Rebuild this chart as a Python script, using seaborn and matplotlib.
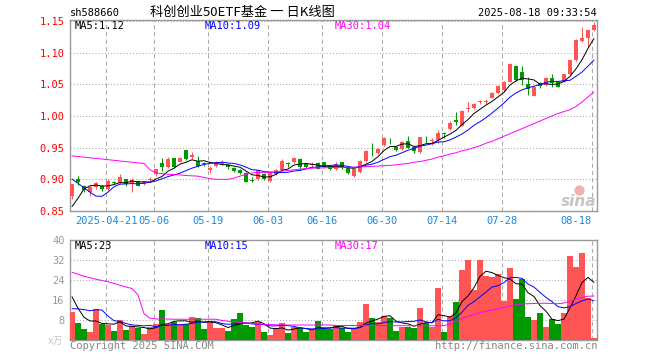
import matplotlib
matplotlib.use("Agg")
import matplotlib.pyplot as plt
import seaborn as sns
import numpy as np
import pandas as pd

# daily candles, 2025-04-11 .. 2025-08-18 (index 0..87)
opens = [0.8735, 0.901, 0.890, 0.8806, 0.888, 0.889, 0.8847, 0.896, 0.8949, 0.900,
         0.8944, 0.8975, 0.8924, 0.899, 0.9077, 0.9255, 0.9194, 0.9332, 0.928, 0.946,
         0.9357, 0.9296, 0.925, 0.9153, 0.9215, 0.9245, 0.923, 0.918, 0.915, 0.910,
         0.8995, 0.900, 0.9088, 0.897, 0.9088, 0.915, 0.9255, 0.9268, 0.932, 0.924,
         0.923, 0.9257, 0.927, 0.921, 0.916, 0.927, 0.919, 0.9047, 0.9113, 0.929,
         0.941, 0.9423, 0.9536, 0.9605, 0.9516, 0.9485, 0.9603, 0.951, 0.9427, 0.962,
         0.9606, 0.962, 0.9727, 0.9795, 0.9937, 0.9848, 1.0105, 1.012, 1.0216, 1.0216,
         1.029, 1.0358, 1.041, 1.0542, 1.079, 1.070, 1.050, 1.0321, 1.0516, 1.049,
         1.0605, 1.054, 1.0542, 1.0658, 1.0884, 1.1184, 1.1226, 1.1358]
closes = [0.8923, 0.896, 0.8837, 0.8883, 0.894, 0.885, 0.8975, 0.894, 0.9041, 0.892,
          0.899, 0.890, 0.8959, 0.901, 0.9163, 0.9194, 0.9316, 0.9194, 0.933, 0.9316,
          0.9383, 0.9204, 0.924, 0.9185, 0.9255, 0.928, 0.919, 0.913, 0.910, 0.8959,
          0.8975, 0.914, 0.901, 0.9113, 0.9155, 0.9294, 0.9237, 0.933, 0.919, 0.920,
          0.9235, 0.917, 0.921, 0.917, 0.9245, 0.919, 0.910, 0.9165, 0.929, 0.945,
          0.9408, 0.9474, 0.9655, 0.960, 0.9464, 0.9588, 0.950, 0.944, 0.9664, 0.9615,
          0.962, 0.9727, 0.9711, 0.9895, 0.991, 1.008, 1.0121, 1.0185, 1.0237, 1.0237,
          1.0369, 1.048, 1.0542, 1.0816, 1.0569, 1.0569, 1.0427, 1.0463, 1.048, 1.0605,
          1.0516, 1.0463, 1.0658, 1.0884, 1.120, 1.1237, 1.1358, 1.1437]
highs = [0.8925, 0.905, 0.891, 0.890, 0.896, 0.891, 0.900, 0.898, 0.9077, 0.901,
         0.9025, 0.899, 0.897, 0.904, 0.917, 0.933, 0.9347, 0.934, 0.935, 0.947,
         0.9434, 0.9367, 0.927, 0.921, 0.9296, 0.930, 0.924, 0.919, 0.916, 0.911,
         0.9036, 0.915, 0.910, 0.912, 0.917, 0.932, 0.9275, 0.9356, 0.933, 0.925,
         0.927, 0.927, 0.928, 0.923, 0.927, 0.928, 0.920, 0.917, 0.930, 0.946,
         0.958, 0.949, 0.967, 0.966, 0.953, 0.960, 0.968, 0.953, 0.967, 0.969,
         0.965, 0.978, 0.9745, 0.9921, 1.0058, 1.009, 1.0227, 1.020, 1.0258, 1.027,
         1.038, 1.049, 1.055, 1.083, 1.0805, 1.0795, 1.062, 1.047, 1.054, 1.061,
         1.066, 1.055, 1.067, 1.089, 1.121, 1.141, 1.137, 1.149]
lows = [0.8694, 0.891, 0.8796, 0.873, 0.885, 0.882, 0.8837, 0.892, 0.893, 0.890,
        0.8806, 0.889, 0.891, 0.897, 0.905, 0.9128, 0.918, 0.918, 0.927, 0.930,
        0.9316, 0.919, 0.921, 0.9104, 0.920, 0.923, 0.917, 0.911, 0.908, 0.895,
        0.8959, 0.899, 0.899, 0.895, 0.907, 0.913, 0.919, 0.925, 0.917, 0.918,
        0.919, 0.916, 0.919, 0.915, 0.914, 0.917, 0.908, 0.903, 0.910, 0.928,
        0.937, 0.940, 0.952, 0.956, 0.945, 0.947, 0.949, 0.942, 0.941, 0.957,
        0.954, 0.957, 0.966, 0.978, 0.9858, 0.984, 1.007, 1.011, 1.0195, 1.019,
        1.028, 1.034, 1.040, 1.053, 1.055, 1.049, 1.033, 1.031, 1.044, 1.048,
        1.0458, 1.045, 1.053, 1.065, 1.087, 1.117, 1.109, 1.134]
# volume (x万)
volume = [11.3, 6.7, 4.4, 3.2, 12.4, 6.3, 6.1, 3.6, 8.0, 4.0,
          5.6, 4.9, 2.4, 5.3, 6.5, 12.0, 6.3, 7.2, 6.3, 6.5,
          9.2, 8.8, 4.4, 7.3, 4.8, 4.8, 3.7, 8.4, 10.8, 6.0,
          5.3, 7.3, 3.2, 2.0, 4.9, 6.8, 2.9, 5.3, 4.7, 3.2,
          4.0, 7.7, 4.7, 4.3, 6.0, 4.7, 3.2, 4.4, 7.2, 14.4,
          8.7, 7.2, 9.6, 8.7, 3.6, 5.2, 5.2, 4.9, 12.8, 6.7,
          5.2, 20.8, 3.3, 9.6, 15.2, 28.0, 32.0, 20.0, 32.0, 25.6,
          25.2, 26.3, 15.7, 28.9, 16.4, 24.4, 9.2, 8.0, 10.8, 5.2,
          8.4, 6.4, 10.8, 33.6, 29.2, 34.8, 16.9, 0.8]

# nine sessions before the first candle (needed for MA5 / MA10)
prev_close = [0.960, 0.955, 0.958, 0.955, 0.888, 0.831, 0.8105, 0.8625, 0.889]
prev_volume = [7.0, 7.5, 8.0, 8.0, 8.0, 29.7, 22.4, 10.7, 12.4]

# MA30 lines as drawn
ma30 = [0.937, 0.936, 0.935, 0.934, 0.933, 0.932, 0.931, 0.930, 0.929, 0.928,
        0.927, 0.926, 0.925, 0.915, 0.910, 0.909, 0.908, 0.9075, 0.907, 0.906,
        0.9055, 0.905, 0.903, 0.901, 0.900, 0.900, 0.900, 0.902, 0.905, 0.908,
        0.910, 0.911, 0.911, 0.911, 0.912, 0.913, 0.914, 0.915, 0.916, 0.917,
        0.9175, 0.918, 0.918, 0.9185, 0.919, 0.919, 0.919, 0.919, 0.9195, 0.920,
        0.9205, 0.921, 0.9215, 0.922, 0.923, 0.924, 0.925, 0.927, 0.928, 0.930,
        0.932, 0.935, 0.937, 0.940, 0.942, 0.945, 0.947, 0.950, 0.953, 0.957,
        0.960, 0.964, 0.968, 0.972, 0.976, 0.980, 0.984, 0.988, 0.992, 0.996,
        1.000, 1.004, 1.007, 1.010, 1.015, 1.022, 1.030, 1.038]
vol_ma30 = [27.1, 26.3, 25.5, 24.9, 24.3, 23.8, 23.3, 22.6, 21.9, 21.2,
            20.6, 18.0, 10.5, 8.7, 8.4, 8.4, 8.4, 8.3, 8.3, 8.3,
            8.3, 8.3, 8.3, 8.3, 8.3, 7.8, 7.5, 7.3, 7.0, 6.8,
            6.6, 6.4, 6.3, 6.2, 6.1, 6.1, 6.0, 6.0, 6.0, 6.0,
            6.0, 6.0, 6.0, 6.0, 5.8, 5.8, 5.8, 5.8, 5.8, 5.8,
            5.8, 5.8, 5.8, 5.7, 5.7, 5.7, 5.7, 5.7, 5.7, 5.7,
            5.7, 5.7, 5.7, 6.5, 7.5, 8.5, 9.5, 10.2, 11.0, 11.5,
            12.0, 12.5, 13.0, 13.6, 14.1, 14.4, 14.5, 14.6, 14.7, 14.7,
            14.6, 14.5, 14.8, 15.6, 16.4, 17.0, 17.5, 17.6]

tick_index = [6, 14, 23, 33, 42, 52, 62, 72, 87]
tick_dates = ["2025-04-21", "05-06", "05-19", "06-03", "06-16", "06-30", "07-14", "07-28", "08-18"]

n = len(closes)
idx = np.arange(n)
df = pd.DataFrame({"i": idx, "open": opens, "close": closes, "high": highs, "low": lows,
                   "vol": volume, "ma30": ma30, "vma30": vol_ma30})
cs = pd.Series(prev_close + closes)
vs = pd.Series(prev_volume + volume)
df["ma5"] = cs.rolling(5).mean().iloc[9:].values
df["ma10"] = cs.rolling(10).mean().iloc[9:].values
df["vma5"] = vs.rolling(5).mean().iloc[9:].values
df["vma10"] = vs.rolling(10).mean().iloc[9:].values

RED = "#ff5555"
GREEN = "#009900"
up = df["close"] >= df["open"]
colors = np.where(up, RED, GREEN)

sns.set_style("white")
plt.rcParams["font.family"] = ["DejaVu Sans Mono", "Noto Sans CJK SC"]

W, H = 660, 360
fig = plt.figure(figsize=(6.6, 3.6), dpi=100)
ax = fig.add_axes([70 / W, 1 - 211 / H, 527 / W, 191 / H])
axv = fig.add_axes([70 / W, 1 - 340 / H, 527 / W, 100 / H])

grid_x = [t - 1 / 3 for t in tick_index]
for a in (ax, axv):
    a.set_xlim(-1 / 3, 87.5)
    for s in a.spines.values():
        s.set_color("#999999")
        s.set_linewidth(1.0)
    a.set_xticks(grid_x)
    a.set_xticklabels([])
    a.tick_params(length=0, pad=4)
    a.grid(False)
    a.xaxis.grid(True, color="#aaaaaa", linestyle=(0, (4, 3)), linewidth=0.75)
    a.yaxis.grid(True, color="#aaaaaa", linestyle=(0, (1, 2)), linewidth=0.75)
    a.set_axisbelow(True)

# candles
ax.vlines(df["i"], df["low"], df["high"], colors=colors, linewidth=0.75, zorder=2)
body = np.maximum((df["close"] - df["open"]).abs(), 0.0012)
ax.bar(df["i"], body, bottom=np.minimum(df["open"], df["close"]), width=0.82,
       color=colors, linewidth=0, zorder=3)
sns.lineplot(data=df, x="i", y="ma5", color="black", linewidth=0.7, ax=ax, zorder=4)
sns.lineplot(data=df, x="i", y="ma10", color="#0000ff", linewidth=0.7, ax=ax, zorder=4)
sns.lineplot(data=df, x="i", y="ma30", color="#ff00ff", linewidth=0.7, ax=ax, zorder=4)
ax.set_ylim(0.85, 1.1515)
pticks = [0.85, 0.90, 0.95, 1.00, 1.05, 1.10, 1.15]
ax.set_yticks(pticks)
ax.set_yticklabels(["%.2f" % v for v in pticks], color="#ff0000", fontsize=7.5)
ax.set_xlabel("")
ax.set_ylabel("")

for t, lab in zip(grid_x, tick_dates):
    ha = "right" if lab == tick_dates[-1] else "center"
    ax.text(t, -0.052, lab, transform=ax.get_xaxis_transform(), ha=ha,
            va="center", color="#1a88d8", fontsize=7.5)

# sina watermark
ax.text(0.998, 0.052, "sina", transform=ax.transAxes, ha="right", va="center",
        fontsize=11, fontweight="bold", style="italic", color="#c4c4c4",
        family="DejaVu Sans", zorder=1)
ax.scatter([0.966], [0.11], transform=ax.transAxes, s=55, color="#f5b0b0",
           linewidths=0, zorder=1)

# volume
axv.bar(df["i"], df["vol"], width=0.86, color=colors, linewidth=0, zorder=3)
sns.lineplot(data=df, x="i", y="vma5", color="black", linewidth=0.7, ax=axv, zorder=4)
sns.lineplot(data=df, x="i", y="vma10", color="#0000ff", linewidth=0.7, ax=axv, zorder=4)
sns.lineplot(data=df, x="i", y="vma30", color="#ff00ff", linewidth=0.7, ax=axv, zorder=4)
axv.set_ylim(0, 40)
vticks = [8, 16, 24, 32, 40]
axv.set_yticks(vticks)
axv.set_yticklabels([str(v) for v in vticks], color="#999999", fontsize=7.5)
axv.set_xlabel("")
axv.set_ylabel("")


def ftext(px, py, s, **kw):
    fig.text(px / W, 1 - py / H, s, va="center", **kw)


ftext(70, 13, "sh588660", color="black", fontsize=7.5)
ftext(150, 12.5, "科创创业50ETF基金 一 日K线图", color="black", fontsize=9.5,
      family=["Noto Sans CJK SC"])
ftext(597, 13, "2025-08-18 09:33:54", ha="right", color="black", fontsize=7.5)

last = df.iloc[-1]
ftext(75, 26, "MA5:%.2f" % last["ma5"], color="black", fontsize=7.5)
ftext(205, 26, "MA10:%.2f" % last["ma10"], color="#0000ff", fontsize=7.5)
ftext(335, 26, "MA30:%.2f" % last["ma30"], color="#ff00ff", fontsize=7.5)
ftext(75, 246, "MA5:%d" % last["vma5"], color="black", fontsize=7.5)
ftext(205, 246, "MA10:%d" % last["vma10"], color="#0000ff", fontsize=7.5)
ftext(335, 246, "MA30:%d" % last["vma30"], color="#ff00ff", fontsize=7.5)

ftext(70, 346, "Copyright 2025 SINA.COM", color="#888888", fontsize=7.5)
ftext(597, 346, "http://finance.sina.com.cn", ha="right", color="#888888", fontsize=7.5)
ftext(48, 341, "x万", color="#c8c8c8", fontsize=7, family=["DejaVu Sans", "Noto Sans CJK SC"])

fig.savefig("out.png", dpi=100)
